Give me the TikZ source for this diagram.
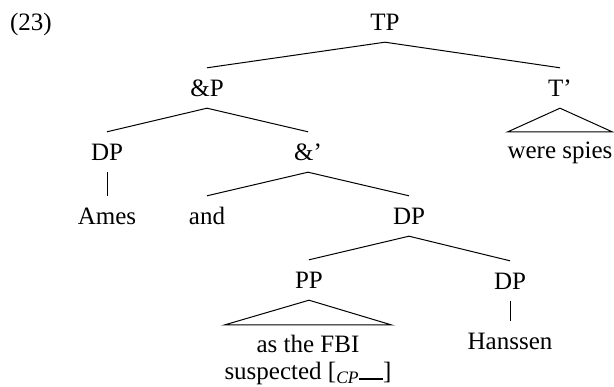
\documentclass[tikz,border=0pt]{standalone}
\usepackage{fontspec}
\setmainfont{Liberation Serif}
\begin{document}
\begin{tikzpicture}[x=1pt,y=-1pt,
  lab/.style={inner sep=0pt, minimum height=40pt, text height=16.5pt, text depth=0pt, font=\fontsize{25}{28}\selectfont},
  leaf/.style={anchor=north, inner xsep=0pt, inner ysep=10pt, align=center, font=\fontsize{25}{27}\selectfont},
  br/.style={line width=1pt, line join=miter}]
\useasboundingbox (0,0) rectangle (614,387);
\node[lab] (ex) at (31,22) {(23)};
\node[lab] (TP) at (385,22) {TP};
\node[lab] (AP) at (207,88) {\&P};
\node[lab] (Tb) at (560,88) {T’};
\node[lab] (DP1) at (107,152) {DP};
\node[lab] (Ab) at (308,152) {\&’};
\node[lab] (Ames) at (107,216) {Ames};
\node[lab] (and) at (207,216) {and};
\node[lab] (DP2) at (409,216) {DP};
\node[lab] (PP) at (309,280) {PP};
\node[lab] (DP3) at (510,281) {DP};
\node[lab] (Han) at (510,341) {Hanssen};
\node[leaf] (ws) at (560,132) {were spies};
\node[leaf] (fbi) at (308,325) {as the FBI\\suspected [\textsubscript{\itshape CP}\rule{24pt}{1.2pt}]};
\draw[br] (AP.north) -- (TP.south) -- (Tb.north);
\draw[br] (DP1.north) -- (AP.south) -- (Ab.north);
\draw[br] (Tb.south) -- (ws.north west) -- (ws.north east) -- cycle;
\draw[br] (DP1.south) -- (Ames.north);
\draw[br] (and.north) -- (Ab.south) -- (DP2.north);
\draw[br] (PP.north) -- (DP2.south) -- (DP3.north);
\draw[br] (PP.south) -- (fbi.north west) -- (fbi.north east) -- cycle;
\draw[br] (DP3.south) -- (Han.north);
\end{tikzpicture}
\end{document}
